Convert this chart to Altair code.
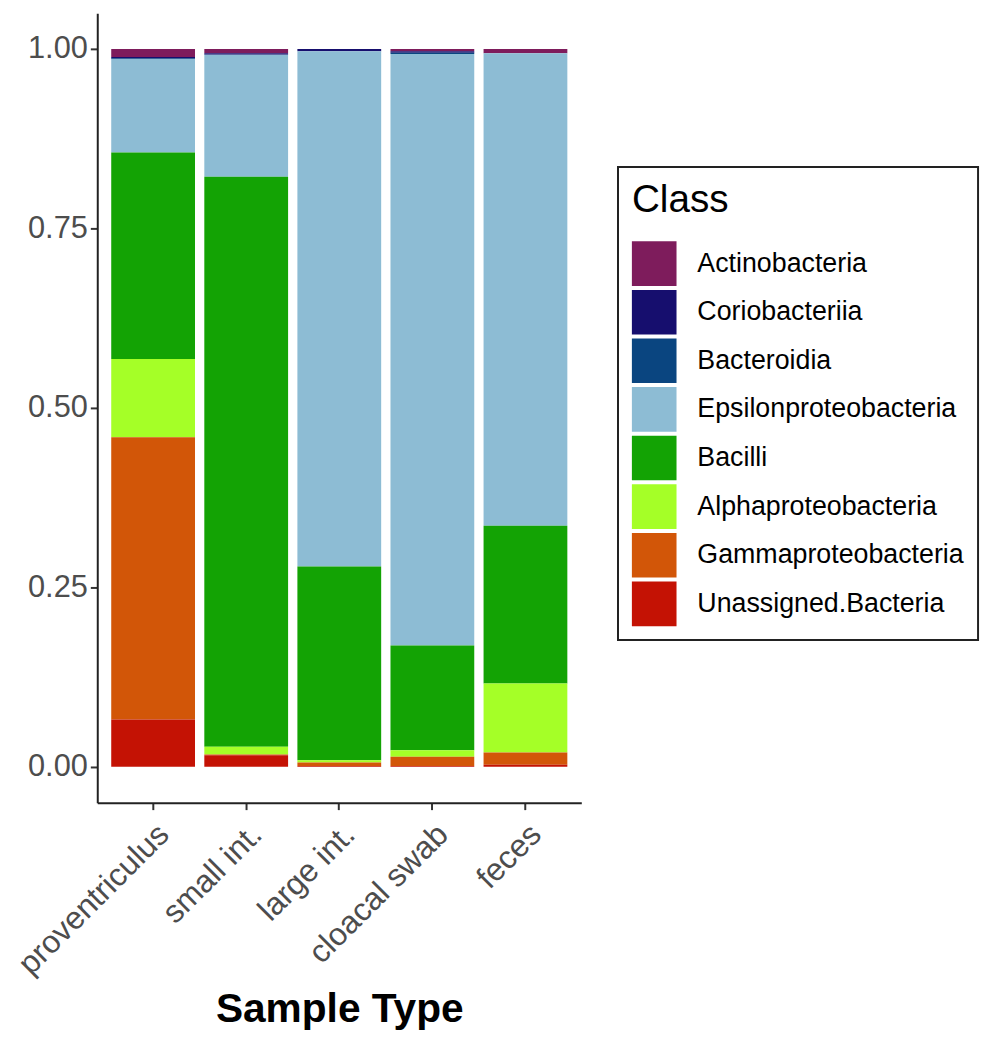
import altair as alt
import pandas as pd

samples = ["proventriculus", "small int.", "large int.", "cloacal swab", "feces"]
classes = ["Actinobacteria", "Coriobacteriia", "Bacteroidia", "Epsilonproteobacteria",
           "Bacilli", "Alphaproteobacteria", "Gammaproteobacteria", "Unassigned.Bacteria"]
colors = ["#7E1C5C", "#160E6E", "#0A4580", "#8DBCD4",
          "#13A304", "#A5FF27", "#D25608", "#C41204"]

actinobacteria = [0.011, 0.006, 0.000, 0.003, 0.006]
coriobacteriia = [0.002, 0.002, 0.003, 0.002, 0.000]
bacteroidia = [0.001, 0.000, 0.000, 0.002, 0.000]
epsilonproteobacteria = [0.130, 0.170, 0.718, 0.824, 0.658]
bacilli = [0.288, 0.794, 0.270, 0.146, 0.220]
alphaproteobacteria = [0.109, 0.011, 0.003, 0.009, 0.096]
gammaproteobacteria = [0.393, 0.001, 0.005, 0.013, 0.017]
unassigned = [0.066, 0.016, 0.001, 0.001, 0.003]

series = [actinobacteria, coriobacteriia, bacteroidia, epsilonproteobacteria,
          bacilli, alphaproteobacteria, gammaproteobacteria, unassigned]

rows = []
for ci, (cls, vals) in enumerate(zip(classes, series)):
    for s, v in zip(samples, vals):
        rows.append({"Sample": s, "Class": cls, "Abundance": v,
                     "stack": len(classes) - 1 - ci})
df = pd.DataFrame(rows)

FONT = "Liberation Sans"

chart = alt.Chart(df).mark_bar().encode(
    x=alt.X("Sample:N", sort=samples,
            scale=alt.Scale(paddingInner=0.1, paddingOuter=0.15),
            axis=alt.Axis(title="Sample Type", labelAngle=-45, labelAlign="right",
                          labelBaseline="top", labelPadding=9, labelLimit=400,
                          labelFontSize=32,
                          titleY=221, titleBaseline="alphabetic")),
    y=alt.Y("Abundance:Q", stack="zero",
            scale=alt.Scale(domain=[-0.05, 1.05], nice=False, zero=False),
            axis=alt.Axis(title=None, values=[0, 0.25, 0.5, 0.75, 1.0], format=".2f",
                          labelFontSize=31)),
    color=alt.Color("Class:N", scale=alt.Scale(domain=classes, range=colors),
                    legend=alt.Legend(orient="none", legendX=525, legendY=155,
                                      title="Class", titleFontSize=39, titleFont=FONT,
                                      titleColor="black", titleFontWeight="normal",
                                      titlePadding=22, labelFontSize=27, labelFont=FONT,
                                      labelColor="black", labelOffset=21, labelLimit=400,
                                      symbolType="square", symbolSize=2025,
                                      symbolStrokeWidth=0, symbolOpacity=1,
                                      rowPadding=4, padding=14,
                                      strokeColor="#222222", fillColor="white")),
    order=alt.Order("stack:Q", sort="ascending"),
).properties(
    width=488, height=796,
    autosize=alt.AutoSizeParams(type="none"),
    padding={"left": 90, "top": 1, "right": 406, "bottom": 227},
).configure_view(stroke=None).configure_axis(
    grid=False, domainColor="#222222", domainWidth=2, tickColor="#333333",
    tickWidth=2, tickSize=7, labelColor="#4D4D4D", labelFont=FONT,
    labelPadding=3, titleFont=FONT, titleFontSize=41,
    titleFontWeight="bold", titleColor="black"
).configure_legend(strokeWidth=2)

chart.save("out.html", embed_options={"renderer": "svg", "actions": False})
